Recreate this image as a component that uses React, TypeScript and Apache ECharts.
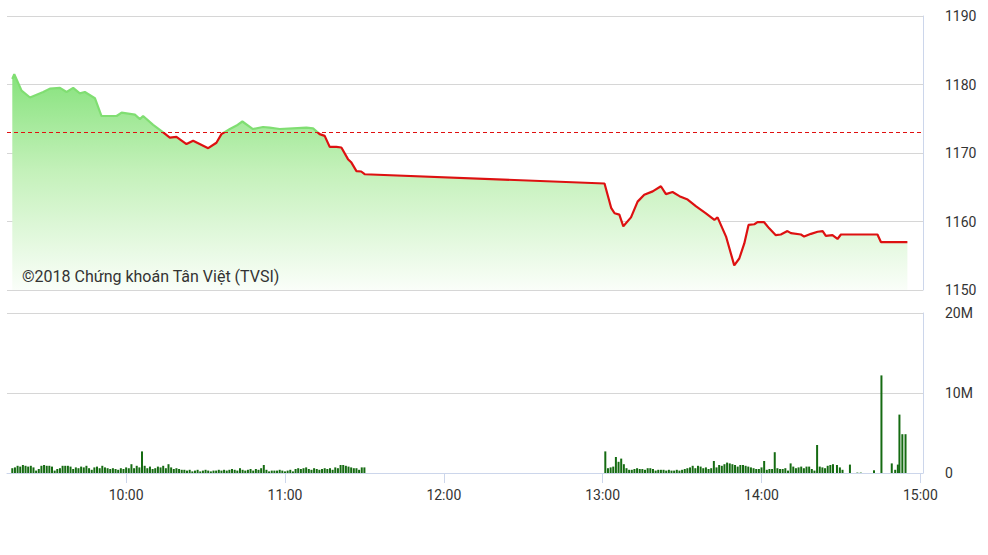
import React, { useEffect, useRef } from "react";
import * as echarts from "echarts";

// x values are minutes since midnight (555 = 9:15)
const xTickLabels = ["10:00", "11:00", "12:00", "13:00", "14:00", "15:00"];
const priceTicks = [1150, 1160, 1170, 1180, 1190];
const volTickLabels = ["0", "10M", "20M"];
const referencePrice = 1173.1;

const priceTimes = [
  557.0, 557.75, 560.5, 563.7, 568.7, 571.2, 575.0, 577.5, 580.0, 582.5, 584.4, 588.2, 590.7, 596.4, 598.3,
  603.3, 605.2, 606.4, 610.2, 614.0, 616.5, 619.0, 622.8, 625.3, 631.0, 634.1, 636.0, 639.2, 641.7, 643.9,
  647.9, 651.7, 654.2, 658.0, 663.0, 668.1, 670.6, 673.1, 675.0, 676.9, 679.4, 681.3, 683.8, 685.1, 687.0,
  688.8, 690.1, 780.7, 783.2, 784.5, 786.3, 787.8, 790.7, 793.2, 795.7, 798.9, 802.0, 803.9, 806.4, 809.0,
  812.1, 815.3, 819.0, 822.2, 823.4, 826.6, 829.7, 831.6, 833.5, 835.1, 837.3, 838.5, 841.0, 842.9, 845.4,
  847.3, 849.8, 851.1, 854.9, 856.1, 858.7, 861.2, 863.1, 864.3, 866.8, 868.7, 870.0, 883.8, 885.1, 895.1,
];
const priceValues = [
  1180.8, 1181.5, 1179.1, 1178.1, 1178.9, 1179.4, 1179.5, 1178.9, 1179.5, 1178.7, 1178.9, 1178.0, 1175.4, 1175.4, 1175.9,
  1175.6, 1174.95, 1175.4, 1174.1, 1173.0, 1172.25, 1172.35, 1171.3, 1171.8, 1170.7, 1171.5, 1172.75, 1173.5, 1174.0, 1174.6,
  1173.5, 1173.8, 1173.7, 1173.5, 1173.6, 1173.7, 1173.6, 1172.75, 1172.5, 1170.9, 1170.9, 1170.8, 1169.1, 1168.6, 1167.35,
  1167.3, 1166.9, 1165.55, 1162.0, 1161.2, 1161.0, 1159.3, 1160.6, 1162.9, 1163.9, 1164.4, 1165.15, 1164.0, 1164.3, 1163.7,
  1163.2, 1162.2, 1161.2, 1160.25, 1160.6, 1157.8, 1153.6, 1154.6, 1156.8, 1159.5, 1159.6, 1159.9, 1159.9, 1159.0, 1158.0,
  1158.1, 1158.6, 1158.3, 1158.1, 1157.8, 1158.2, 1158.5, 1158.6, 1157.9, 1158.0, 1157.45, 1158.1, 1158.1, 1157.0, 1157.0,
];

// volume in millions, one bar per minute
const morningStart = 557;
const morningVolumes = [
  0.6, 0.7, 0.9, 0.8, 1.0, 0.9, 0.8, 0.9, 0.7, 0.3,
  0.5, 0.9, 1.0, 0.9, 0.9, 0.8, 0.3, 0.5, 0.6, 0.9,
  0.9, 0.9, 0.8, 0.5, 0.7, 0.6, 0.8, 0.7, 0.9, 0.6,
  0.4, 0.7, 0.8, 0.6, 0.9, 0.7, 0.6, 0.5, 0.6, 0.5,
  0.4, 0.6, 0.5, 0.7, 0.6, 1.1, 0.6, 0.9, 0.7, 2.7,
  0.9, 0.6, 0.8, 0.5, 0.6, 0.8, 0.7, 0.9, 0.6, 1.1,
  0.7, 0.5, 0.6, 0.5, 0.4, 0.4, 0.3, 0.4, 0.2, 0.3,
  0.4, 0.2, 0.3, 0.4, 0.3, 0.2, 0.3, 0.3, 0.4, 0.3,
  0.4, 0.3, 0.4, 0.5, 0.4, 0.3, 0.6, 0.4, 0.3, 0.4,
  0.5, 0.3, 0.5, 0.4, 0.6, 1.0, 0.4, 0.2, 0.3, 0.3,
  0.3, 0.4, 0.3, 0.2, 0.3, 0.4, 0.2, 0.5, 0.6, 0.5,
  0.6, 0.7, 0.5, 0.4, 0.6, 0.5, 0.4, 0.5, 0.6, 0.5,
  0.6, 0.4, 0.7, 0.6, 1.0, 1.0, 0.9, 0.8, 0.7, 0.6,
  0.6, 0.4, 0.7, 0.7,
];
const afternoonStart = 781;
const afternoonVolumes = [
  2.7, 0.6, 0.7, 0.8, 2.0, 1.4, 1.8, 1.1, 0.6, 0.4,
  0.4, 0.5, 0.6, 0.5, 0.5, 0.4, 0.6, 0.6, 0.5, 0.3,
  0.4, 0.4, 0.4, 0.3, 0.4, 0.3, 0.3, 0.4, 0.3, 0.4,
  0.5, 0.6, 0.7, 0.9, 0.6, 0.9, 0.8, 0.6, 0.7, 0.5,
  0.6, 1.5, 0.7, 1.0, 0.9, 1.1, 1.3, 1.2, 1.1, 1.0,
  0.8, 1.0, 1.0, 0.9, 0.8, 0.7, 0.6, 0.5, 0.5, 0.7,
  1.5, 0.4, 0.5, 0.5, 2.6, 0.6, 0.5, 0.5, 0.6, 0.3,
  1.2, 0.8, 0.6, 0.7, 0.8, 0.6, 0.8, 0.8, 0.5, 0.3,
  3.5, 0.8, 0.7, 0.6, 0.9, 1.0, 1.1,
];
const lateTimes = [868.5, 869.6, 870.6, 873.4, 876.2, 877.5, 882.5, 885.3, 889.2, 890.5, 891.5, 892.1, 893.2, 894.4];
const lateVolumes = [1.0, 0.7, 0.4, 1.05, 0.05, 0.05, 0.34, 12.2, 1.2, 0.4, 1.05, 7.3, 4.85, 4.85];

const X_MIN = 555;
const X_MAX = 901;
const PLOT_LEFT = 7;
const PLOT_RIGHT = 65;
const PX_PER_MIN = (988 - PLOT_LEFT - PLOT_RIGHT) / (X_MAX - X_MIN);

export default function App() {
  const ref = useRef<HTMLDivElement>(null);

  useEffect(() => {
    if (!ref.current) return;
    const chart = echarts.init(ref.current, undefined, { renderer: "svg" });

    const priceData = priceTimes.map((t, i) => [t, priceValues[i]]);
    const volData: number[][] = [];
    morningVolumes.forEach((v, i) => volData.push([morningStart + i, v]));
    afternoonVolumes.forEach((v, i) => volData.push([afternoonStart + i, v]));
    lateTimes.forEach((t, i) => volData.push([t, lateVolumes[i]]));

    const font = "Roboto, 'Noto Sans', sans-serif";
    const gridLine = { show: true, lineStyle: { color: "#d6d6d6", width: 1 } };

    // helper grid for time ticks: starts at 9:00 so that hourly ticks line up
    const tickMin = 540;
    const tickMax = 900;
    const tickLeft = PLOT_LEFT - (X_MIN - tickMin) * PX_PER_MIN;
    const tickRight = 988 - (PLOT_LEFT + (tickMax - X_MIN) * PX_PER_MIN);

    chart.setOption({
      animation: false,
      textStyle: { fontFamily: font },
      grid: [
        { left: PLOT_LEFT, right: PLOT_RIGHT, top: 16, height: 274, outerBoundsMode: "none", containLabel: false },
        { left: PLOT_LEFT, right: PLOT_RIGHT, top: 313, height: 160, outerBoundsMode: "none", containLabel: false },
        { left: tickLeft, right: tickRight, top: 313, height: 160, outerBoundsMode: "none", containLabel: false },
      ],
      xAxis: [
        { type: "value", gridIndex: 0, min: X_MIN, max: X_MAX, show: false },
        {
          type: "value",
          gridIndex: 1,
          min: X_MIN,
          max: X_MAX,
          splitLine: { show: false },
          axisLine: { show: true, lineStyle: { color: "#ccd6eb", width: 1 } },
          axisTick: { show: false },
          axisLabel: { show: false },
        },
        {
          type: "value",
          gridIndex: 2,
          min: tickMin,
          max: tickMax,
          interval: 60,
          splitLine: { show: false },
          axisLine: { show: false },
          axisTick: { show: true, length: 10, lineStyle: { color: "#ccd6eb" } },
          axisLabel: {
            color: "#333",
            fontSize: 14,
            fontFamily: font,
            margin: 15,
            formatter: (v: number) => {
              const i = Math.round((v - 600) / 60);
              return i >= 0 && i < xTickLabels.length ? xTickLabels[i] : "";
            },
          },
        },
      ],
      yAxis: [
        {
          type: "value",
          gridIndex: 0,
          position: "right",
          min: priceTicks[0],
          max: priceTicks[priceTicks.length - 1],
          interval: 10,
          splitLine: gridLine,
          axisLine: { show: true, lineStyle: { color: "#ccd6eb", width: 1 } },
          axisTick: { show: false },
          axisLabel: {
            color: "#333",
            fontSize: 14,
            fontFamily: font,
            margin: 22,
            align: "left",
            formatter: (v: number) => String(v),
          },
        },
        {
          type: "value",
          gridIndex: 1,
          position: "right",
          min: 0,
          max: 20,
          interval: 10,
          splitLine: gridLine,
          axisLine: { show: true, lineStyle: { color: "#ccd6eb", width: 1 } },
          axisTick: { show: false },
          axisLabel: {
            color: "#333",
            fontSize: 14,
            fontFamily: font,
            margin: 22,
            align: "left",
            formatter: (v: number) => volTickLabels[Math.round(v / 10)] ?? "",
          },
        },
        { type: "value", gridIndex: 2, min: 0, max: 20, show: false },
      ],
      visualMap: {
        show: false,
        type: "piecewise",
        seriesIndex: 0,
        dimension: 1,
        pieces: [
          { gt: 1000, lte: referencePrice, color: "#dd1111" },
          { gt: referencePrice, lte: 1400, color: "#80de72" },
        ],
        outOfRange: { color: "#dd1111" },
      },
      series: [
        {
          type: "line",
          xAxisIndex: 0,
          yAxisIndex: 0,
          data: priceData,
          showSymbol: false,
          symbol: "none",
          lineStyle: { width: 2.2 },
          areaStyle: {
            origin: "start",
            color: new echarts.graphic.LinearGradient(0, 0, 0, 1, [
              { offset: 0, color: "#86e27c" },
              { offset: 0.45, color: "#c4f1ba" },
              { offset: 1, color: "#fafef9" },
            ]),
            opacity: 1,
          },
          markLine: {
            silent: true,
            symbol: "none",
            label: { show: false },
            lineStyle: { color: "#e01010", type: [4, 3], width: 1 },
            data: [{ yAxis: referencePrice }],
          },
          z: 3,
        },
        {
          type: "bar",
          xAxisIndex: 1,
          yAxisIndex: 1,
          data: volData,
          barWidth: 2,
          itemStyle: { color: "#156b12" },
        },
      ],
      graphic: [
        {
          type: "text",
          left: 22,
          top: 268,
          style: {
            text: "©2018 Chứng khoán Tân Việt (TVSI)",
            fill: "#333",
            font: `16px ${font}`,
          },
          z: 10,
        },
      ],
    });

    return () => chart.dispose();
  }, []);

  return (
    <div
      ref={ref}
      style={{ position: "fixed", left: 0, top: 0, width: 988, height: 555, background: "#fff" }}
    />
  );
}
